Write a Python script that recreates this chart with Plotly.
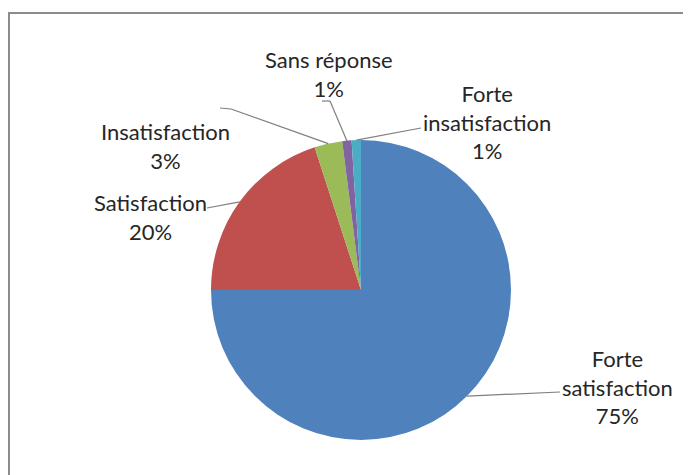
import math
import plotly.graph_objects as go

labels = ["Forte satisfaction", "Satisfaction", "Insatisfaction", "Sans réponse", "Forte insatisfaction"]
values = [75, 20, 3, 1, 1]
colors = ["#4F81BD", "#C0504D", "#9BBB59", "#8064A2", "#4BACC6"]
label_texts = ["Forte<br>satisfaction<br>75%", "Satisfaction<br>20%", "Insatisfaction<br>3%",
               "Sans réponse<br>1%", "Forte<br>insatisfaction<br>1%"]

W, H = 691, 475
OFF = 8  # page body margin offset
cx, cy, r = 361 - OFF, 290 - OFF, 150  # pie centre / radius in px (figure coords)

# label centres (screen px) and leader-line start points (screen px)
label_pos = [(617, 387), (150, 217), (165, 146), (329, 74), (487, 122)]
leader_start = [[(560, 392)], [(207, 208)], [(220, 108), (231, 109)], [(322, 101), (330, 101)], [(421, 128)]]

fig = go.Figure(go.Pie(
    labels=labels, values=values, sort=False, direction="clockwise", rotation=0,
    marker=dict(colors=colors, line=dict(width=0)),
    textinfo="none", hoverinfo="label+percent", showlegend=False,
    domain=dict(x=[(cx - r) / W, (cx + r) / W], y=[(H - cy - r) / H, (H - cy + r) / H]),
))

def px(x, y):
    return (x - OFF) / W, 1 - (y - OFF) / H

total = sum(values)
cum = 0
shapes = []
annotations = []
for i, v in enumerate(values):
    mid = (cum + v / 2) / total
    cum += v
    ang = 2 * math.pi * mid
    ax = cx + OFF + r * math.sin(ang)
    ay = cy + OFF - r * math.cos(ang)
    pts = leader_start[i] + [(ax, ay)]
    for (x0, y0), (x1, y1) in zip(pts[:-1], pts[1:]):
        a0 = px(x0, y0); a1 = px(x1, y1)
        shapes.append(dict(type="line", xref="paper", yref="paper", x0=a0[0], y0=a0[1], x1=a1[0], y1=a1[1],
                           line=dict(color="#7f7f7f", width=1.2)))
    lx, ly = px(*label_pos[i])
    annotations.append(dict(text=label_texts[i], x=lx, y=ly, xref="paper", yref="paper", showarrow=False,
                            xanchor="center", yanchor="middle", align="center",
                            font=dict(family="Lato", size=22, color="#262626")))

# chart frame (top and left edges visible)
for (x0, y0, x1, y1) in [(9, 13, 700, 13), (9, 12, 9, 490)]:
    a0 = px(x0, y0); a1 = px(x1, y1)
    shapes.append(dict(type="line", xref="paper", yref="paper", x0=a0[0], y0=a0[1], x1=a1[0], y1=a1[1],
                       line=dict(color="#8c8c8c", width=2)))

fig.update_layout(width=W, height=H, margin=dict(l=0, r=0, t=0, b=0),
                  paper_bgcolor="white", plot_bgcolor="white",
                  shapes=shapes, annotations=annotations)
fig.write_html("out.html")
